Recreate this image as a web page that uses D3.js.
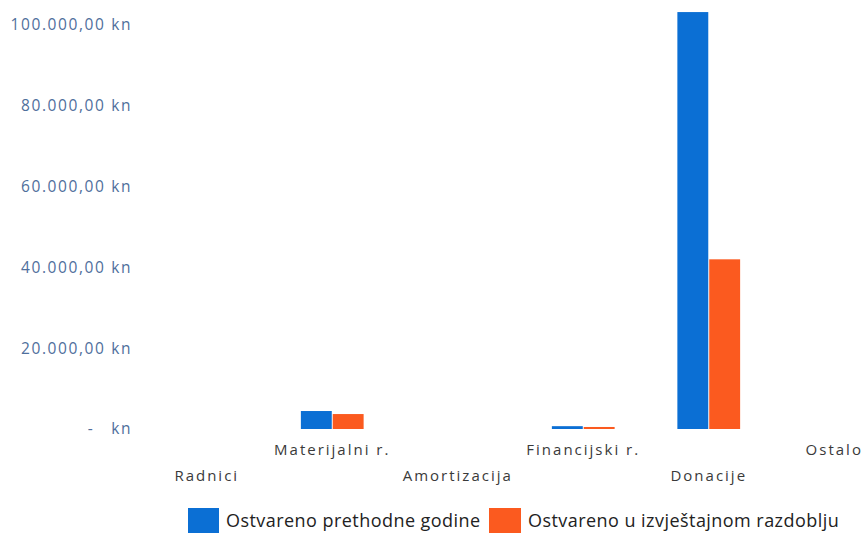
<!DOCTYPE html>
<html>
<head>
<meta charset="utf-8">
<script src="https://cdn.jsdelivr.net/npm/d3@7"></script>
<style>
  html, body { margin: 0; padding: 0; background: #fff; }
  svg { display: block; }
</style>
</head>
<body>
<svg id="chart" width="865" height="533"></svg>
<script>
const categories = ["Radnici", "Materijalni r.", "Amortizacija", "Financijski r.", "Donacije", "Ostalo"];
const seriesNames = ["Ostvareno prethodne godine", "Ostvareno u izvještajnom razdoblju"];
const prevYear = [0, 4450, 0, 700, 103200, 0];
const currentPeriod = [0, 3700, 0, 500, 42000, 0];
const yTicks = [0, 20000, 40000, 60000, 80000, 100000];
const colors = ["#0b6fd4", "#fb5a1f"];

const svg = d3.select("#chart");
const font = "'Open Sans', 'Noto Sans', sans-serif";

const x = d3.scaleBand().domain(categories).range([144, 897]).paddingInner(0.5).paddingOuter(0.25);
const xs = d3.scaleBand().domain(seriesNames).range([0, x.bandwidth()]).paddingInner(0.03);
const y = d3.scaleLinear().domain([0, 100000]).range([429, 25]);

function fmt(v) {
  if (v === 0) return "-   kn";
  const s = d3.format(",.2f")(v);
  return s.replace(/,/g, "#").replace(".", ",").replace(/#/g, ".") + " kn";
}

// y axis labels
const yAxis = d3.axisLeft(y).tickValues(yTicks).tickFormat(fmt).tickSize(0).tickPadding(0);
const yg = svg.append("g").attr("transform", "translate(132,0)").call(yAxis);
yg.select(".domain").remove();
yg.selectAll("text")
  .attr("fill", "#4f6f9c")
  .attr("font-family", font)
  .attr("font-size", 15.5)
  .attr("letter-spacing", "1.6px")
  .style("white-space", "pre");

// bars
const series = [prevYear, currentPeriod];
series.forEach((vals, si) => {
  svg.append("g").selectAll("rect")
    .data(categories.map((c, i) => ({ c, v: vals[i] })))
    .join("rect")
    .attr("x", d => x(d.c) + xs(seriesNames[si]))
    .attr("y", d => y(d.v))
    .attr("width", xs.bandwidth())
    .attr("height", d => y(0) - y(d.v))
    .attr("fill", colors[si]);
});

// x axis labels (staggered)
const xAxis = d3.axisBottom(x).tickSize(0).tickPadding(0);
const xg = svg.append("g").call(xAxis);
xg.select(".domain").remove();
xg.selectAll(".tick text")
  .attr("y", (d, i) => i % 2 === 1 ? 455 : 481)
  .attr("dy", null)
  .attr("fill", "#3a3a3a")
  .attr("font-family", font)
  .attr("font-size", 15)
  .attr("letter-spacing", "2px");

// legend
const legend = svg.append("g");
const legendItems = [
  { name: seriesNames[0], color: colors[0], x: 188, w: 31 },
  { name: seriesNames[1], color: colors[1], x: 489, w: 32 }
];
legendItems.forEach(it => {
  legend.append("rect").attr("x", it.x).attr("y", 508).attr("width", it.w).attr("height", 25).attr("fill", it.color);
  legend.append("text")
    .attr("x", it.x + it.w + 7)
    .attr("y", 527)
    .attr("font-family", font)
    .attr("font-size", 18)
    .attr("letter-spacing", "0.45px")
    .attr("fill", "#222")
    .text(it.name);
});
</script>
</body>
</html>
